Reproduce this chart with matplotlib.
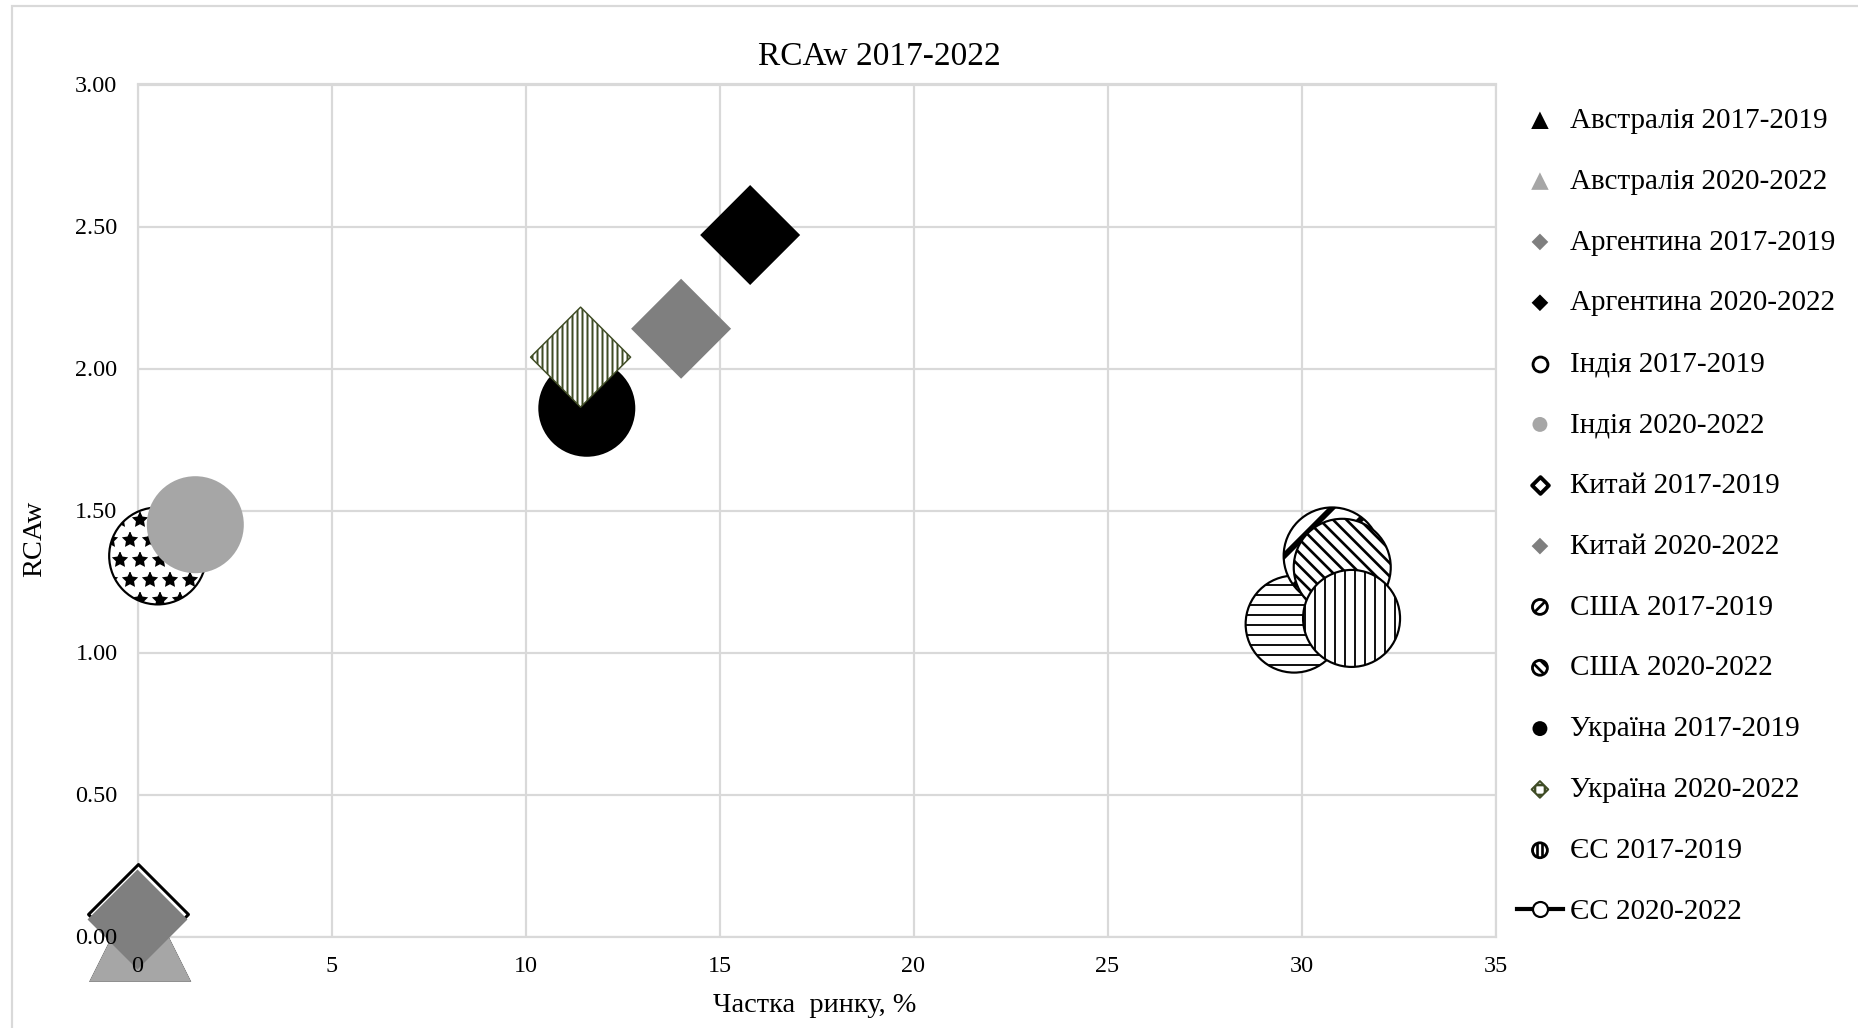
import matplotlib
matplotlib.use('Agg')
import matplotlib.pyplot as plt
from matplotlib.lines import Line2D
from matplotlib.patches import Rectangle
import numpy as np

plt.rcParams['font.family'] = ['Liberation Serif', 'DejaVu Serif']

# series
labels = ['Австралія 2017-2019', 'Австралія 2020-2022',
          'Аргентина 2017-2019', 'Аргентина 2020-2022',
          'Індія 2017-2019', 'Індія 2020-2022',
          'Китай 2017-2019', 'Китай 2020-2022',
          'США 2017-2019', 'США 2020-2022',
          'Україна 2017-2019', 'Україна 2020-2022',
          'ЄС 2017-2019', 'ЄС 2020-2022']
share = [0.07, 0.07, 14.01, 15.79, 0.52, 1.49, 0.01, 0.0,
         30.79, 31.05, 11.58, 11.42, 31.29, 29.81]   # частка ринку, %
rcaw = [0.02, 0.02, 2.14, 2.47, 1.34, 1.45, 0.08, 0.06,
        1.34, 1.30, 1.86, 2.04, 1.12, 1.10]

xticks = np.arange(0, 36, 5)
yticks = np.arange(0, 3.01, 0.5)

# styles
DPI = 120
GRAY_L = '#a6a6a6'
GRAY_D = '#7f7f7f'
OLIVE = '#3f4c25'
markers = ['^', '^', 'D', 'D', 'o', 'o', 'D', 'D', 'o', 'o', 'o', 'D', 'o', 'o']
faces = ['black', GRAY_L, GRAY_D, 'black', 'white', GRAY_L, 'white', GRAY_D,
         'white', 'white', 'black', 'white', 'white', 'white']
edges = ['none', 'none', 'none', 'none', 'black', 'none', 'black', 'none',
         'black', 'black', 'none', OLIVE, 'black', 'black']
lws = [0, 0, 0, 0, 1.3, 0, 1.8, 0, 1.3, 1.3, 0, 0.9, 1.3, 1.3]
hatches = [None, None, None, None, '*', None, None, None,
           '/', '\\\\\\', None, '||||', '||', '--']
hatch_lw = [1, 1, 1, 1, 1, 1, 1, 1, 3.5, 1.6, 1, 1.2, 1.1, 1.1]
sizes = [3745, 3745, 1800, 1800, 3387, 3387, 1800, 1800,
         3387, 3387, 3387, 1800, 3387, 3387]
zorders = [3, 4, 5, 6, 7, 8, 9, 10, 12, 13, 14, 15, 16, 11]
leg_sizes = [110, 110, 50, 50, 80, 80, 50, 50, 80, 80, 80, 50, 80, 80]
leg_hatches = [None, None, None, None, None, None, None, None,
               '///', '\\\\\\\\', None, '++', '||||', None]

fig = plt.figure(figsize=(1858 / DPI, 1028 / DPI), dpi=DPI)
rect = [137.5 / 1858, 1 - 936.5 / 1028, 1358 / 1858, 852 / 1028]
ax = fig.add_axes(rect)

for i in range(len(labels)):
    with plt.rc_context({'hatch.linewidth': hatch_lw[i], 'hatch.color': 'black'}):
        sc = ax.scatter(share[i], rcaw[i], s=sizes[i], marker=markers[i],
                        facecolor=faces[i], edgecolor=edges[i], linewidths=lws[i],
                        hatch=hatches[i], zorder=zorders[i], clip_on=False)
    if hasattr(sc, 'set_hatch_linewidth'):
        sc.set_hatch_linewidth(hatch_lw[i])

ax.set_xlim(0, 35)
ax.set_ylim(0, 3)
ax.set_xticks(xticks)
ax.set_yticks(yticks)
ax.grid(color='#d9d9d9', lw=1.3)
ax.set_axisbelow(True)
for sp in ax.spines.values():
    sp.set_color('#d9d9d9')
    sp.set_linewidth(1.3)
ax.tick_params(length=0, labelleft=False, labelbottom=False)

# tick labels sit above the markers
ax_lab = fig.add_axes(rect, zorder=5)
ax_lab.patch.set_visible(False)
ax_lab.set_xlim(0, 35)
ax_lab.set_ylim(0, 3)
ax_lab.set_xticks(xticks)
ax_lab.set_yticks(yticks)
ax_lab.set_xticklabels([str(v) for v in xticks])
ax_lab.set_yticklabels(['%.2f' % v for v in yticks])
for sp in ax_lab.spines.values():
    sp.set_visible(False)
ax_lab.tick_params(length=0, labelsize=14.5, pad=12)

fig.text(879 / 1858, 1 - 57 / 1028, 'RCAw 2017-2022', fontsize=20, ha='center', va='center')
fig.text(815 / 1858, 1 - 1005 / 1028, 'Частка  ринку, %', fontsize=17, ha='center', va='center')
fig.text(35 / 1858, 1 - 539 / 1028, 'RCAw', fontsize=17, ha='center', va='center', rotation=90)

# legend proxies
handles = []
for i in range(len(labels)):
    if i == len(labels) - 1:
        h = Line2D([], [], color='black', lw=2.5, marker='o', ms=9,
                   mfc='white', mec='black', mew=1.3)
    else:
        h = ax.scatter([], [], s=leg_sizes[i], marker=markers[i], facecolor=faces[i],
                       edgecolor=edges[i], linewidths=lws[i] * 1.3)
    handles.append(h)

with plt.rc_context({'hatch.linewidth': 1.6, 'hatch.color': 'black'}):
    leg = fig.legend(handles, labels, loc='upper left',
                     bbox_to_anchor=(1516.6 / 1858, 1 - 107.5 / 1028),
                     frameon=False, fontsize=17.5, handlelength=1.6, handletextpad=0.23,
                     labelspacing=1.18, borderpad=0, borderaxespad=0, scatterpoints=1)
    for lh, hp in zip(leg.legend_handles, leg_hatches):
        if hp is not None:
            lh.set_hatch(hp)
            if hasattr(lh, 'set_hatch_linewidth'):
                lh.set_hatch_linewidth(1.6)

fig.add_artist(Rectangle((12 / 1858, -0.05), 2, 1 - 6 / 1028 + 0.05,
                         transform=fig.transFigure, fill=False,
                         ec='#d9d9d9', lw=1.3))

fig.savefig('out.png', dpi=DPI)
